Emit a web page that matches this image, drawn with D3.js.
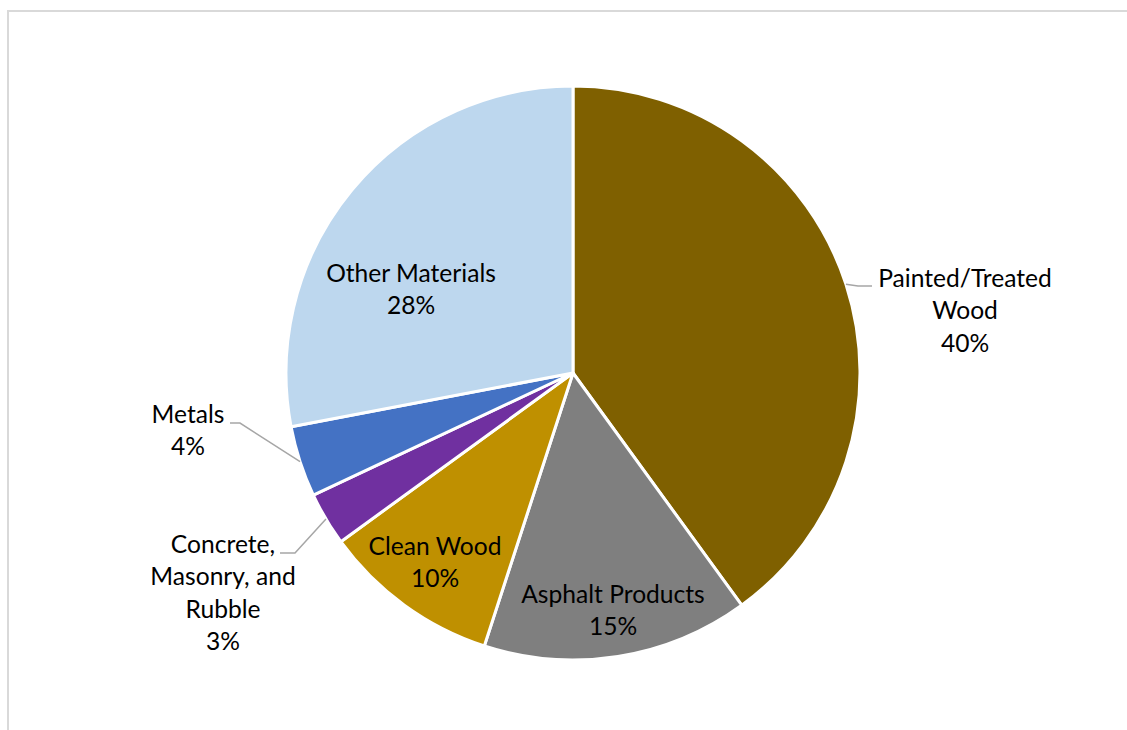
<!DOCTYPE html>
<html><head><meta charset="utf-8">
<script src="https://cdn.jsdelivr.net/npm/d3@7"></script>
<style>
html,body{margin:0;padding:0;background:#fff;}
svg{display:block;}
text{font-family:Lato,"Open Sans",sans-serif;fill:#000;}
</style></head><body>
<svg id="chart" width="1127" height="730"></svg>
<script>
const categories = ["Painted/Treated Wood","Asphalt Products","Clean Wood","Concrete, Masonry, and Rubble","Metals","Other Materials"];
const values = [40, 15, 10, 3, 4, 28];
const labelLines = [["Painted/Treated","Wood","40%"],["Asphalt Products","15%"],["Clean Wood","10%"],["Concrete,","Masonry, and","Rubble","3%"],["Metals","4%"],["Other Materials","28%"]];
const colors = ["#7F6000","#7F7F7F","#BF9000","#7030A0","#4472C4","#BDD7EE"];

// label layout (first baseline, centre x) and leader elbows
const labelPos = [[965,287],[613,603],[435,555],[223,553],[188,423],[411,282]];
const leaderEnds = [[[858,286],[872,286]],null,null,[[295,553],[280,553]],[[240,423],[230,423]],null];

const svg = d3.select("#chart");
svg.append("rect").attr("x",8).attr("y",11).attr("width",1140).attr("height",740)
  .attr("fill","none").attr("stroke","#D9D9D9").attr("stroke-width",2);

const cx = 573, cy = 373, r = 287;
const pie = d3.pie().sort(null).value(d=>d);
const arcs = pie(values);
const arc = d3.arc().innerRadius(0).outerRadius(r);
const g = svg.append("g").attr("transform",`translate(${cx},${cy})`);
g.selectAll("path").data(arcs).join("path")
  .attr("d",arc).attr("fill",(d,i)=>colors[i])
  .attr("stroke","#fff").attr("stroke-width",3).attr("stroke-linejoin","round");

// leader lines
const edgeArc = d3.arc().innerRadius(r).outerRadius(r);
arcs.forEach((a,i)=>{
  if(!leaderEnds[i]) return;
  const c = edgeArc.centroid(a);
  const pts = [[c[0]+cx,c[1]+cy]].concat(leaderEnds[i]);
  svg.append("path").attr("d",d3.line()(pts)).attr("fill","none")
    .attr("stroke","#A6A6A6").attr("stroke-width",1.5);
});

// labels
const fs = 24.6, lh = 32.3;
labelLines.forEach((lines,i)=>{
  const t = svg.append("text").attr("text-anchor","middle").attr("font-size",fs);
  lines.forEach((s,j)=>{
    t.append("tspan").attr("x",labelPos[i][0]).attr("y",labelPos[i][1]+j*lh).text(s);
  });
});
</script>
</body></html>
